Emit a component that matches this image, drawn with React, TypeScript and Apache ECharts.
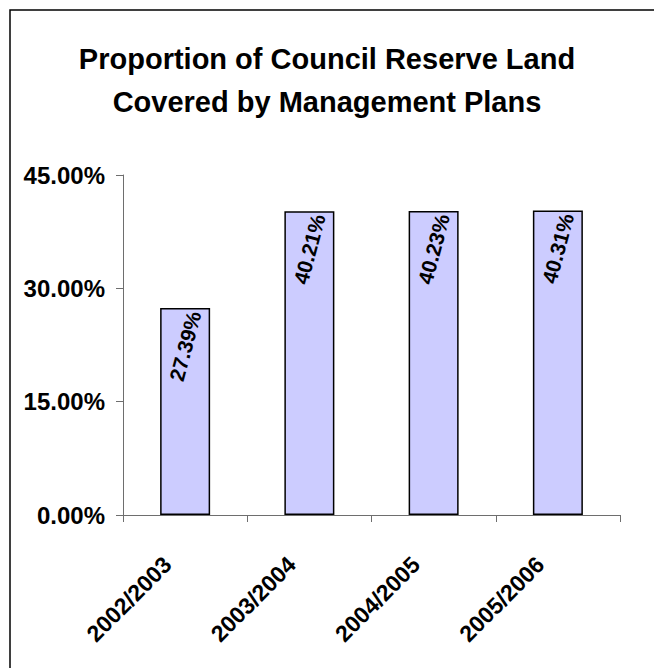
import React, { useEffect, useRef } from "react";
import * as echarts from "echarts";

const categories = ["2002/2003", "2003/2004", "2004/2005", "2005/2006"];
const values = [27.39, 40.21, 40.23, 40.31];
const titleLines = ["Proportion of Council Reserve Land", "Covered by Management Plans"];
const yMin = 0;
const yMax = 45;
const yStep = 15;

export default function App() {
  const ref = useRef<HTMLDivElement>(null);
  useEffect(() => {
    const chart = echarts.init(ref.current!, null, { renderer: "svg" });
    const font = "'Liberation Sans', Arial, sans-serif";
    const axisColor = "#6e6e6e";
    chart.setOption({
      animation: false,
      backgroundColor: "#ffffff",
      title: {
        text: titleLines.join("\n"),
        left: "center",
        top: 32,
        textStyle: { fontFamily: font, fontSize: 29, fontWeight: "bold", color: "#000", lineHeight: 43 },
      },
      grid: { left: 123, right: 34, top: 175, bottom: 153 },
      xAxis: {
        type: "category",
        data: categories,
        axisLine: { lineStyle: { color: axisColor, width: 1 } },
        axisTick: { show: true, length: 7, lineStyle: { color: axisColor } },
        axisLabel: {
          rotate: 45,
          margin: 28,
          padding: [0, 25, 0, 0],
          interval: 0,
          fontFamily: font,
          fontSize: 23,
          fontWeight: "bold",
          color: "#000",
        },
      },
      yAxis: {
        type: "value",
        min: yMin,
        max: yMax,
        interval: yStep,
        axisLine: { show: true, lineStyle: { color: axisColor, width: 1 } },
        axisTick: { show: true, length: 7, lineStyle: { color: axisColor } },
        splitLine: { show: false },
        axisLabel: {
          formatter: (v: number) => v.toFixed(2) + "%",
          margin: 18,
          fontFamily: font,
          fontSize: 24,
          fontWeight: "bold",
          color: "#000",
          padding: [0, 0, 3, 0],
        },
      },
      series: [
        {
          type: "bar",
          data: values,
          barWidth: 50,
          itemStyle: { color: "#CCCCFF", borderColor: "#000", borderWidth: 1.5 },
          label: {
            show: true,
            position: "insideTop",
            distance: 38,
            rotate: 75,
            align: "center",
            verticalAlign: "middle",
            formatter: (p: any) => Number(p.value).toFixed(2) + "%",
            fontFamily: font,
            fontSize: 21,
            fontWeight: "bold",
            color: "#000",
          },
        },
      ],
      graphic: [
        {
          type: "polyline",
          silent: true,
          shape: { points: [[10, 700], [10, 10], [700, 10]] },
          style: { fill: null, stroke: "#000", lineWidth: 1.5 },
        },
      ],
    });
    return () => chart.dispose();
  }, []);
  return <div ref={ref} style={{ position: "fixed", left: 0, top: 0, width: 654, height: 668 }} />;
}
